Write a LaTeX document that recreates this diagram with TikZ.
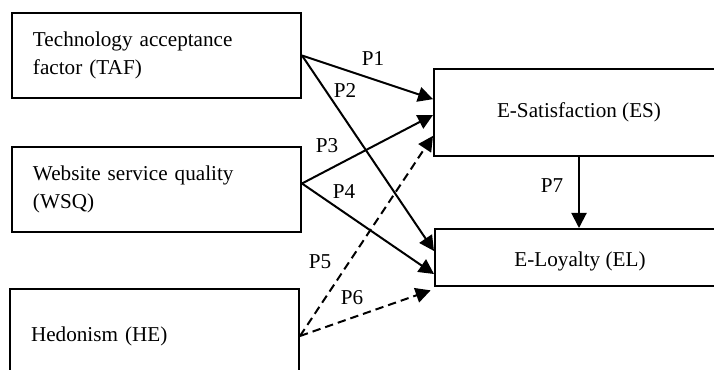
\documentclass[tikz,border=0pt]{standalone}
\usepackage{fontspec}
\setmainfont{Liberation Serif}
\usetikzlibrary{arrows.meta}
\newcommand\pxu{0.6pt}
\begin{document}
\begin{tikzpicture}[x=0.6pt,y=-0.6pt,
  every node/.style={font=\fontsize{12.7}{16.8}\selectfont},
  factor/.style={draw=black, line width=1.2pt, rectangle, anchor=north west, align=left,
    inner xsep=21*\pxu, text width=247*\pxu, minimum width=289*\pxu},
  outcome/.style={draw=black, line width=1.2pt, rectangle, anchor=north west,
    minimum width=290*\pxu},
  path/.style={line width=1.2pt, -{Triangle[length=9pt,width=9pt]}},
  dpath/.style={path, dash pattern=on 5pt off 3pt}]
\clip (0,0) rectangle (714,370);
% left side
\node [factor, minimum height=85*\pxu] (taf) at (11,12) {Technology acceptance\\factor (TAF)};
\node [factor, minimum height=85*\pxu] (wsq) at (11,146) {Website service quality\\(WSQ)};
\node [factor, minimum height=94*\pxu] (he) at (9,288) {Hedonism (HE)};
% right side
\node [outcome, minimum height=87*\pxu] (es) at (433,68) {E-Satisfaction (ES)};
\node [outcome, minimum height=57*\pxu, text height=14pt] (el) at (434,228) {E-Loyalty (EL)};
% hypotheses
\draw [path] (taf.east) -- ([yshift=8pt]es.west);
\draw [path] (taf.east) -- ([yshift=3.9pt]el.west);
\draw [path] ([yshift=3.6pt]wsq.east) -- ([yshift=-1.5pt]es.west);
\draw [path] ([yshift=3.6pt]wsq.east) -- ([yshift=-9.9pt]el.west);
\draw [dpath] (he.east) -- ([yshift=-14pt]es.west);
\draw [dpath] (he.east) -- ([xshift=-2pt,yshift=-2pt]el.south west);
\draw [path] (es.south) -- (es.south |- el.north);
% labels
\node (p1) at (373,59) {P1};
\node (p2) at (345,90) {P2};
\node (p3) at (327,146) {P3};
\node (p4) at (344,192) {P4};
\node (p5) at (320,262) {P5};
\node (p6) at (352,298) {P6};
\node (p7) at (552,186) {P7};
\end{tikzpicture}
\end{document}
